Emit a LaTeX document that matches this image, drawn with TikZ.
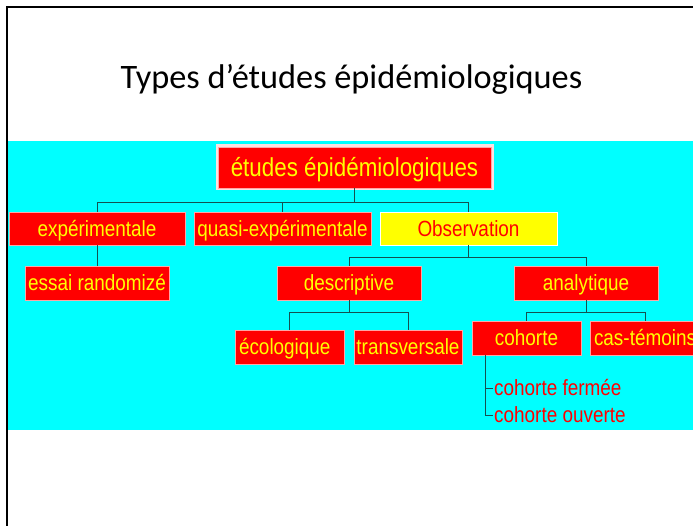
\documentclass[tikz,border=0pt]{standalone}
\usepackage{fontspec}
\usepackage{xcolor}
\usepackage{tikz}
\usetikzlibrary{calc,positioning}
\newfontfamily\titlefont{Carlito}
\newfontfamily\boxfont[FakeStretch=0.86]{Liberation Sans}
\definecolor{slidecyan}{RGB}{0,255,255}
\definecolor{boxred}{RGB}{255,0,0}
\definecolor{boxyellow}{RGB}{255,255,0}
\definecolor{linkteal}{RGB}{20,80,80}

\begin{document}
\begin{tikzpicture}[
    x=1pt, y=-1pt,
    every node/.style={font=\boxfont\fontsize{22}{24}\selectfont},
    bx/.style={rectangle, draw=red!35!white, line width=0.8pt,
               fill=boxred, text=boxyellow, inner sep=0pt,
               text height=15.8pt, text depth=0pt,
               minimum height=33pt, align=center},
    obsbox/.style={bx, fill=boxyellow, text=boxred, draw=white},
    rootbox/.style={bx, minimum width=273pt, minimum height=41pt,
                    text height=19pt,
                    preaction={draw=red!12!white, line width=5pt},
                    font=\boxfont\fontsize{26}{28}\selectfont},
    sub/.style={text=boxred, inner sep=1pt, anchor=west},
    ln/.style={draw=linkteal, line width=0.8pt}
]
\useasboundingbox (0,0) rectangle (693,526);
\clip (0,0) rectangle (693,526);
\fill[white] (0,0) rectangle (693,526);
\fill[slidecyan] (8,141) rectangle (693,430);
\draw[line width=2pt] (6.7,526) |- (693,6.7);

% title
\node[font=\titlefont\fontsize{34.3}{36}\selectfont, anchor=base] (title) at (351.5,89) {Types d’études épidémiologiques};

% tree
\node[rootbox]                       (root)  at (354.5,167.5) {études épidémiologiques};
\node[bx, minimum width=176pt]       (exp)   at (97,228.5)    {expérimentale};
\node[bx, minimum width=177pt]       (quasi) at (282.5,228.5) {quasi-expérimentale};
\node[obsbox, minimum width=177pt]   (obs)   at (468.5,228.5) {Observation};
\node[bx, minimum width=144pt, minimum height=34pt] (essai) at (97,283)  {essai randomizé};
\node[bx, minimum width=144pt, minimum height=34pt] (desc)  at (349,283) {descriptive};
\node[bx, minimum width=144pt, minimum height=34pt] (ana)   at (586,283) {analytique};
\node[bx, minimum width=109pt, minimum height=34pt,
      text width=101pt, align=left] (eco) at (289.5,347) {écologique};
\node[bx, minimum width=108pt, minimum height=34pt] (trans) at (408,347)   {transversale};
\node[bx, minimum width=109pt, minimum height=34pt] (coh)   at (526.5,338) {cohorte};
\node[bx, minimum width=110pt, minimum height=34pt] (cas)   at (645,338)   {cas-témoins};
\node[sub] (fer) at (493,388) {cohorte fermée};
\node[sub] (ouv) at (493,415) {cohorte ouverte};

% brackets
\coordinate (b1) at (root.south |- 0,202);
\coordinate (b2) at (obs.south |- 0,257);
\coordinate (b3) at (desc.south |- 0,312);
\coordinate (b4) at (ana.south |- 0,312);
\coordinate (c1) at ([xshift=14pt]coh.south west);

\draw[ln] (root.south) -- (b1) -| (exp.north);
\draw[ln] (b1) -| (quasi.north);
\draw[ln] (b1) -| (obs.north);
\draw[ln] (exp.south) -- (essai.north);
\draw[ln] (obs.south) -- (b2) -| (desc.north);
\draw[ln] (b2) -| (ana.north);
\draw[ln] (desc.south) -- (b3) -| (eco.north);
\draw[ln] (b3) -| (trans.north);
\draw[ln] (ana.south) -- (b4) -| (coh.north);
\draw[ln] (b4) -| (cas.north);
\draw[ln] (c1) |- (fer.west);
\draw[ln] (c1) |- (ouv.west);
\end{tikzpicture}
\end{document}
